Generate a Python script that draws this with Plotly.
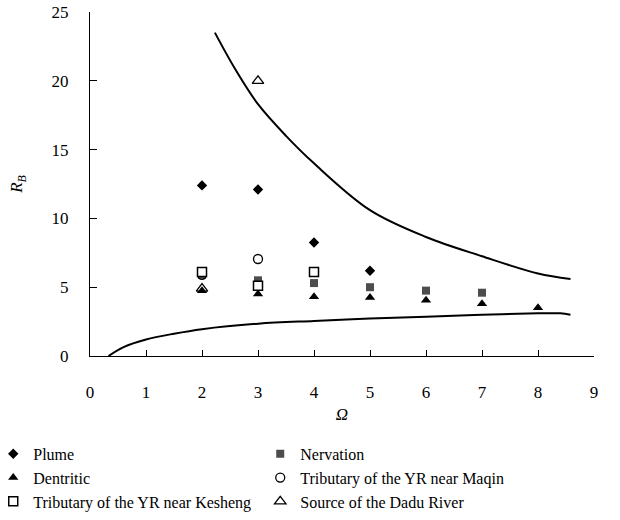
import plotly.graph_objects as go

# Data
plume_x = [2, 3, 4, 5]
plume_y = [12.4, 12.1, 8.25, 6.2]
nerv_x = [2, 3, 4, 5, 6, 7]
nerv_y = [5.9, 5.5, 5.3, 5.0, 4.75, 4.6]
dent_x = [2, 3, 4, 5, 6, 7, 8]
dent_y = [4.75, 4.5, 4.3, 4.25, 4.05, 3.8, 3.5]
maqin_x = [2, 3]
maqin_y = [5.9, 7.05]
kesheng_x = [2, 3, 4]
kesheng_y = [6.1, 5.1, 6.1]
dadu_x = [2, 3]
dadu_y = [4.9, 20.0]

upper_x = [2.23, 2.6, 3, 3.5, 4, 5, 6, 7, 8, 8.58]
upper_y = [23.5, 20.8, 18.3, 16.0, 14.0, 10.6, 8.65, 7.25, 6.0, 5.6]
lower_x = [0.33, 0.6, 1, 1.5, 2, 3, 4, 5, 6, 7, 8, 8.4, 8.58]
lower_y = [0.0, 0.65, 1.2, 1.62, 1.95, 2.35, 2.55, 2.72, 2.85, 3.0, 3.1, 3.1, 3.0]

FONT = "Liberation Serif, Times New Roman, serif"

fig = go.Figure()
fig.add_trace(go.Scatter(x=upper_x, y=upper_y, mode="lines", line=dict(color="black", width=2, shape="spline"), showlegend=False, hoverinfo="skip"))
fig.add_trace(go.Scatter(x=lower_x, y=lower_y, mode="lines", line=dict(color="black", width=2, shape="spline"), showlegend=False, hoverinfo="skip"))

fig.add_trace(go.Scatter(x=plume_x, y=plume_y, mode="markers", name="Plume",
                         marker=dict(symbol="diamond", size=8, color="black")))
fig.add_trace(go.Scatter(x=nerv_x, y=nerv_y, mode="markers", name="Nervation",
                         marker=dict(symbol="square", size=8, color="#4d4d4d")))
fig.add_trace(go.Scatter(x=dent_x, y=dent_y, mode="markers", name="Dentritic",
                         marker=dict(symbol="triangle-up", size=9, color="black")))
fig.add_trace(go.Scatter(x=maqin_x, y=maqin_y, mode="markers", name="Tributary of the YR near Maqin",
                         marker=dict(symbol="circle-open", size=9, color="black", line=dict(width=1.3))))
fig.add_trace(go.Scatter(x=kesheng_x, y=kesheng_y, mode="markers", name="Tributary of the YR near Kesheng",
                         marker=dict(symbol="square", size=9, color="white", line=dict(color="black", width=1.5))))
fig.add_trace(go.Scatter(x=dadu_x, y=dadu_y, mode="markers", name="Source of the Dadu River",
                         marker=dict(symbol="triangle-up-open", size=10, color="black", line=dict(width=1.3))))

fig.update_layout(
    width=620, height=520,
    margin=dict(l=90, r=26, t=12, b=164, autoexpand=False),
    paper_bgcolor="white", plot_bgcolor="white",
    font=dict(family=FONT, size=17, color="black"),
    legend=dict(orientation="h",
                x=-0.192, xanchor="left", y=-0.235, yanchor="top",
                entrywidth=222, entrywidthmode="pixels", font=dict(family=FONT, size=16),
                itemwidth=30, tracegroupgap=0, bgcolor="rgba(0,0,0,0)"),
)
fig.update_xaxes(range=[0, 9], dtick=1, tick0=0, showgrid=False, zeroline=False,
                 showline=True, linecolor="black", linewidth=1,
                 ticks="inside", ticklen=6, tickcolor="black",
                 title=dict(text="<i>Ω</i>", font=dict(family=FONT, size=17), standoff=6),
                 ticklabelstandoff=21, ticklabeloverflow="allow")
fig.update_yaxes(range=[0, 25], dtick=5, tick0=0, showgrid=False, zeroline=False,
                 showline=True, linecolor="black", linewidth=1,
                 ticks="inside", ticklen=7, tickcolor="black",
                 title=dict(text="<i>R<sub>B</sub></i>", font=dict(family=FONT, size=17), standoff=24),
                 ticklabelstandoff=17, ticklabeloverflow="allow")

fig.write_html("out.html", config={"displayModeBar": False},
               post_script="document.body.style.margin='0';")
